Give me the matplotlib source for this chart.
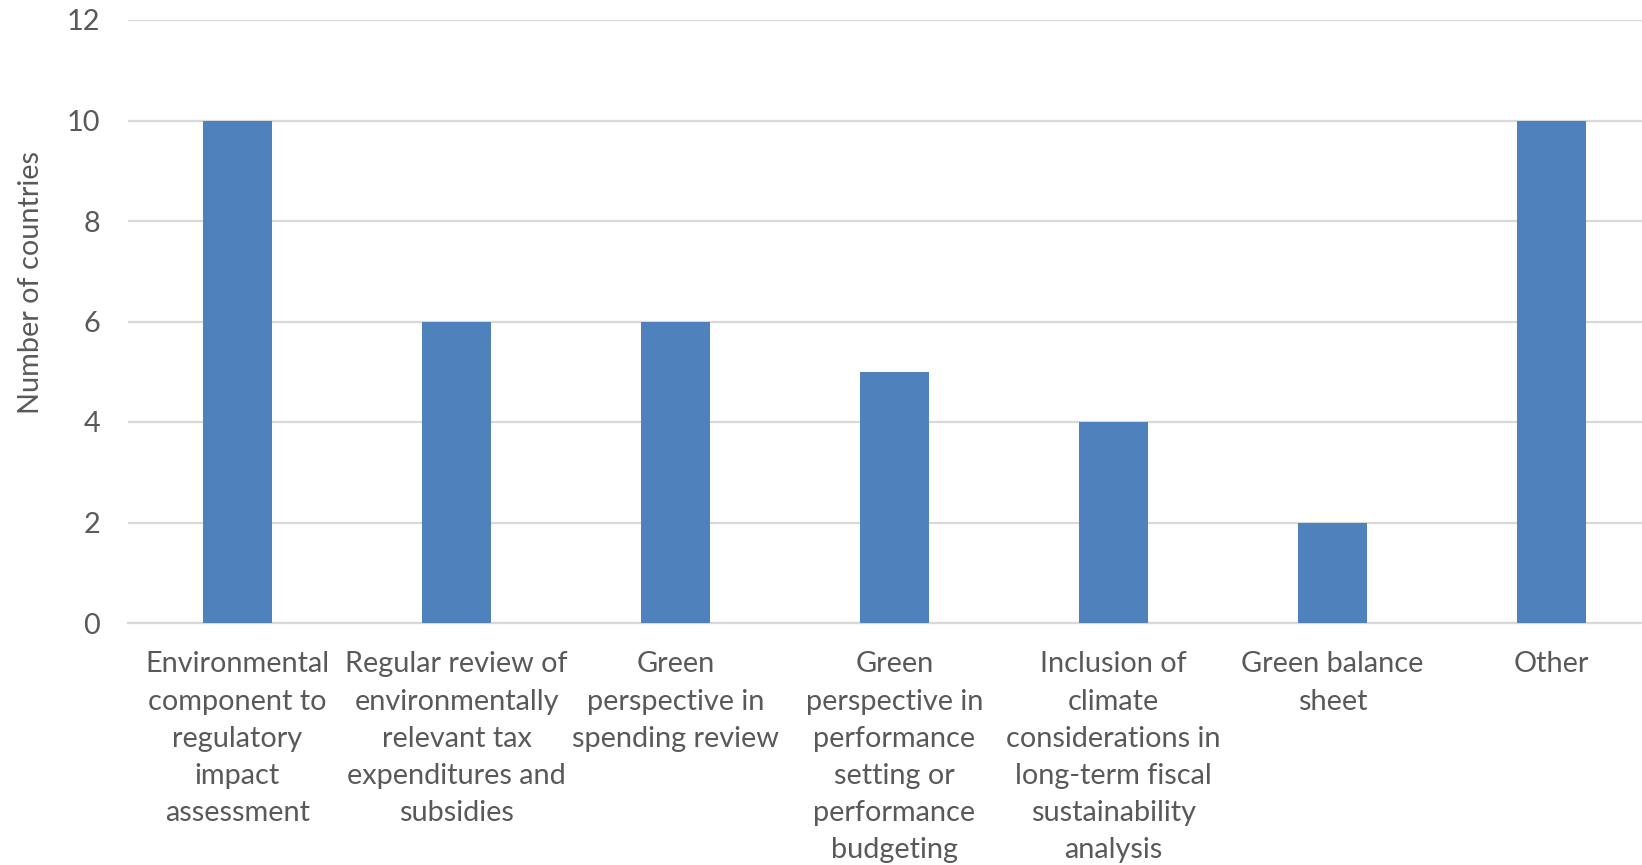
import matplotlib
matplotlib.use('Agg')
import matplotlib.pyplot as plt

# data
categories = [
    'Environmental\ncomponent to\nregulatory\nimpact\nassessment',
    'Regular review of\nenvironmentally\nrelevant tax\nexpenditures and\nsubsidies',
    'Green\nperspective in\nspending review',
    'Green\nperspective in\nperformance\nsetting or\nperformance\nbudgeting',
    'Inclusion of\nclimate\nconsiderations in\nlong-term fiscal\nsustainability\nanalysis',
    'Green balance\nsheet',
    'Other',
]
counts = [10, 6, 6, 5, 4, 2, 10]
y_ticks = [0, 2, 4, 6, 8, 10, 12]

plt.rcParams['font.family'] = ['Lato', 'DejaVu Sans']
text_col = '#595959'
fs = 20.8

W, H = 1642, 865
fig = plt.figure(figsize=(W / 100, H / 100), dpi=100)
left, top, bottom = 128, 20, 623
ax = fig.add_axes([left / W, 1 - bottom / H, (W - left) / W, (bottom - top) / H])

x = list(range(len(categories)))
ax.bar(x, counts, width=0.315, color='#4F81BD', zorder=3)

ax.set_ylim(0, 12)
ax.set_xlim(-0.5, -0.5 + (W - left) / 219)
ax.set_yticks(y_ticks)
ax.yaxis.grid(True, color='#D9D9D9', linewidth=1.6, zorder=0)
ax.set_axisbelow(True)
for s in ['top', 'right', 'left']:
    ax.spines[s].set_visible(False)
ax.spines['bottom'].set_color('#D9D9D9')
ax.spines['bottom'].set_linewidth(1.6)

ax.set_xticks(x)
ax.set_xticklabels(categories, linespacing=1.53)
ax.tick_params(axis='x', length=0, pad=20.5, labelsize=fs, labelcolor=text_col)
ax.tick_params(axis='y', length=0, pad=20, labelsize=fs, labelcolor=text_col)

ax.set_ylabel('Number of countries', fontsize=fs, color=text_col)
ax.yaxis.set_label_coords(-0.0555, 0.564)

fig.savefig('out.png', dpi=100)
